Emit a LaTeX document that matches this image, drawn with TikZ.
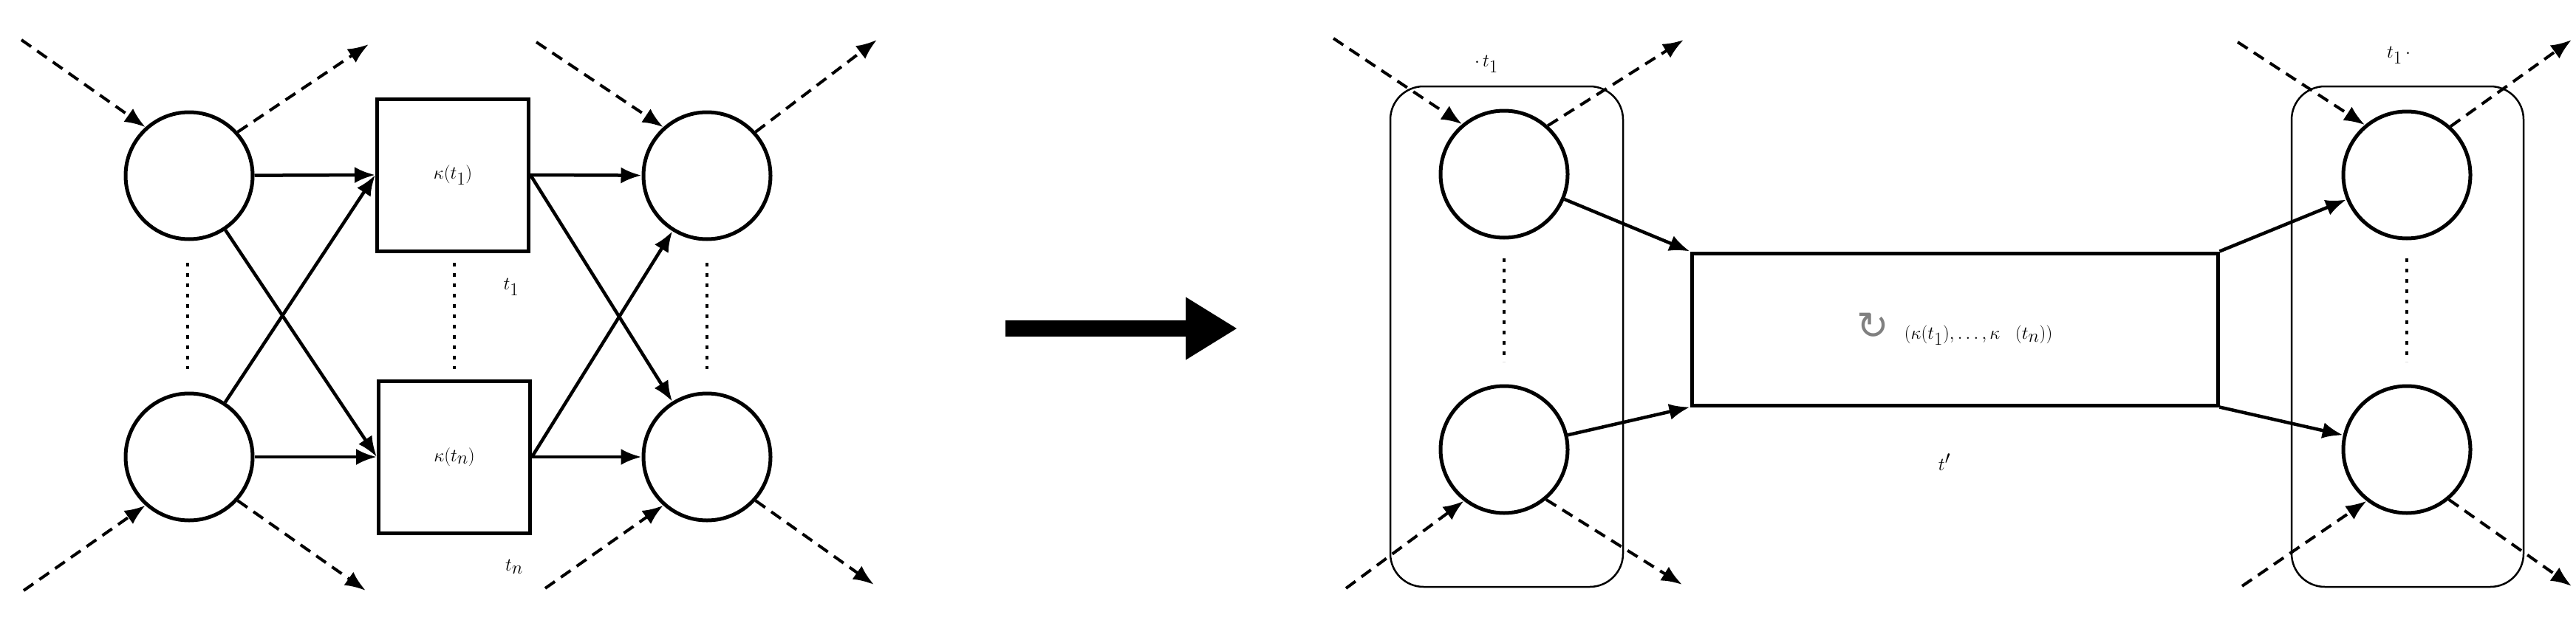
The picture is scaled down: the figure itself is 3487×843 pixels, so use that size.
\documentclass[tikz,border=0pt]{standalone}
\usepackage{fontspec}
\newfontfamily\dejavu{DejaVu Sans}
\usetikzlibrary{arrows.meta}
\begin{document}
\begin{tikzpicture}[x=1pt,y=-1pt,
  pl/.style={circle,draw,line width=5pt,minimum size=172pt,inner sep=0pt},
  tr/.style={draw,line width=5pt,minimum width=205pt,minimum height=206pt,inner sep=0pt,font=\fontsize{68}{80}\selectfont},
  arr/.style={line width=4.5pt,-{Latex[length=28pt,width=22pt]}},
  dsh/.style={line width=4pt,dash pattern=on 16pt off 10pt,-{Latex[length=28pt,width=22pt]}},
  dots/.style={line width=4pt,dash pattern=on 5pt off 9pt},
  grp/.style={draw,line width=2.5pt,rounded corners=45pt},
  lab/.style={font=\fontsize{68}{80}\selectfont,inner sep=0pt}]
\useasboundingbox (0,0) rectangle (3487,843);
% left net
\node[pl] (a1) at (256,238) {};
\node[pl] (a2) at (256,619) {};
\node[pl] (b1) at (957,238) {};
\node[pl] (b2) at (957,619) {};
\node[tr] (k1) at (613,237) {$\kappa(t_1)$};
\node[tr] (kn) at (615,619) {$\kappa(t_n)$};
\node[lab] (l1) at (692,389) {$t_1$};
\node[lab] (ln) at (696,768) {$t_n$};
\draw[arr] (a1) -- (k1.west);
\draw[arr] (a1) -- (kn.west);
\draw[arr] (a2) -- (k1.west);
\draw[arr] (a2) -- (kn.west);
\draw[arr] (k1.east) -- (b1);
\draw[arr] (k1.east) -- (b2);
\draw[arr] (kn.east) -- (b1);
\draw[arr] (kn.east) -- (b2);
\coordinate (p1) at (29,54); \coordinate (p2) at (499,60);
\coordinate (p3) at (32,800); \coordinate (p4) at (495,800);
\coordinate (p5) at (726,57); \coordinate (p6) at (1187,54);
\coordinate (p7) at (738,797); \coordinate (p8) at (1183,792);
\draw[dsh] (p1) -- (a1.132);
\draw[dsh] (a1.42) -- (p2);
\draw[dsh] (p3) -- (a2.228);
\draw[dsh] (a2.-42) -- (p4);
\draw[dsh] (p5) -- (b1.132);
\draw[dsh] (b1.42) -- (p6);
\draw[dsh] (p7) -- (b2.228);
\draw[dsh] (b2.-42) -- (p8);
\draw[dots] (254,356) -- (254,500);
\draw[dots] (615,356) -- (615,500);
\draw[dots] (957,356) -- (957,500);
% big arrow
\coordinate (ba) at (1361,445); \coordinate (bb) at (1675,445);
\draw[line width=22pt,-{Triangle[length=70pt,width=80pt]}] (ba) -- (bb);
% right net
\draw[grp] (1882,117) rectangle (2197,795);
\draw[grp] (3102,117) rectangle (3416,795);
\node[pl] (c1) at (2036,236) {};
\node[pl] (c2) at (2036,609) {};
\node[pl] (d1) at (3258,237) {};
\node[pl] (d2) at (3258,609) {};
\node[draw,line width=5pt,minimum width=712pt,minimum height=206pt,inner sep=0pt,font=\fontsize{68}{80}\selectfont] (big) at (2646,446)
  {{\color{gray}\fontsize{52}{60}\selectfont\dejavu ↻}\ $(\kappa(t_1),\dots,\kappa\ (t_n))$};
\draw[arr] (c1) -- (big.north west);
\draw[arr] (c2) -- (big.south west);
\draw[arr] (big.north east) -- (d1);
\draw[arr] (big.south east) -- (d2);
\node[lab] (m1) at (2012,87) {$\cdot\, t_1$};
\node[lab] (m2) at (3247,75) {$t_1\,\cdot$};
\node[lab] (m3) at (2632,626) {$t'$};
\coordinate (q1) at (1805,52); \coordinate (q2) at (2279,54);
\coordinate (q3) at (1822,797); \coordinate (q4) at (2277,792);
\coordinate (q5) at (3029,57); \coordinate (q6) at (3481,54);
\coordinate (q7) at (3035,794); \coordinate (q8) at (3481,794);
\draw[dsh] (q1) -- (c1.130);
\draw[dsh] (c1.48) -- (q2);
\draw[dsh] (q3) -- (c2.232);
\draw[dsh] (c2.-50) -- (q4);
\draw[dsh] (q5) -- (d1.130);
\draw[dsh] (d1.48) -- (q6);
\draw[dsh] (q7) -- (d2.232);
\draw[dsh] (d2.-50) -- (q8);
\draw[dots] (2036,350) -- (2036,490);
\draw[dots] (3258,350) -- (3258,490);
\end{tikzpicture}
\end{document}
